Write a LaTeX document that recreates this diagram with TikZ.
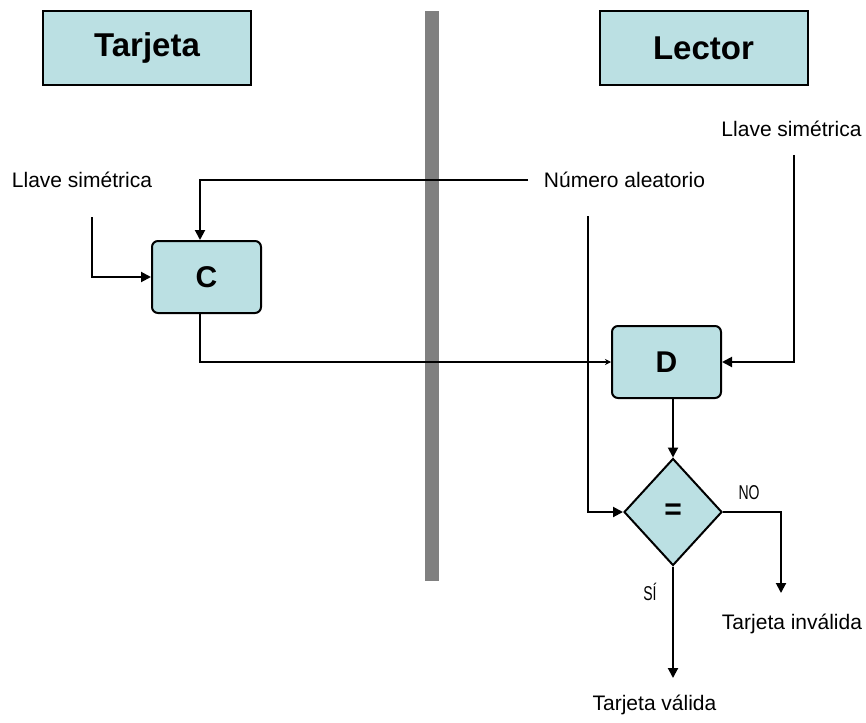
\documentclass[tikz,border=0pt]{standalone}
\usepackage{fontspec}
\setmainfont{Liberation Sans}
\usetikzlibrary{shapes.geometric,arrows.meta}
\definecolor{boxblue}{RGB}{187,224,227}
\definecolor{bargray}{RGB}{128,128,128}

\begin{document}
\begin{tikzpicture}[x=1pt, y=-1pt,
    headbox/.style={draw, line width=2pt, fill=boxblue, minimum width=208pt, minimum height=74pt, inner sep=0pt, font=\fontsize{33}{36}\selectfont\bfseries},
    block/.style={draw, line width=2pt, fill=boxblue, rounded corners=6pt, minimum width=109pt, minimum height=72pt, inner sep=0pt, font=\fontsize{30}{34}\selectfont\bfseries},
    txt/.style={inner sep=0pt, font=\fontsize{21}{24}\selectfont},
    tag/.style={inner sep=0pt, font=\fontsize{20}{24}\selectfont, xscale=0.7},
    arr/.style={-{Triangle[length=10pt,width=10pt]}, line width=2pt},
    thinarr/.style={-{Stealth[length=6pt,width=6pt]}, line width=2pt}]
    \useasboundingbox (0,0) rectangle (866,722);

    % Dividing bar
    \fill[bargray] (425,11) rectangle (439,581);

    % Headings
    \node[headbox] (tarjeta) at (147,48) {Tarjeta};
    \node[headbox] (lector) at (703.5,48) {Lector};

    % Inputs
    \node[txt] (llaveC) at (82,180) {Llave simétrica};
    \node[txt] (numero) at (624.5,180) {Número aleatorio};
    \node[txt] (llaveD) at (791.5,129) {Llave simétrica};
    \coordinate (llaveCend) at (92,217);
    \coordinate (numeroL) at (528,180);
    \coordinate (numeroB) at (588,216);
    \coordinate (llaveDend) at (794,155);

    % Blocks
    \node[block] (C) at (206.5,277) {C};
    \node[block] (D) at (666.5,362) {D};
    \node[draw, line width=2pt, fill=boxblue, diamond, minimum width=98pt, minimum height=107pt, inner sep=0pt, font=\fontsize{30}{34}\selectfont\bfseries] (eq) at (673,512) {=};

    % Outputs
    \node[tag] (no) at (749,493) {NO};
    \node[tag] (si) at (650,592) {SÍ};
    \node[txt] (invalida) at (792,624) {Tarjeta inválida};
    \node[txt] (valida) at (654.5,705) {Tarjeta válida};
    \coordinate (invEnd) at (781,593);
    \coordinate (valEnd) at (673,678);

    % Connectors
    \draw[arr] (numeroL) -| ([xshift=-6.5pt]C.north);
    \draw[arr] (llaveCend) |- (C.west);
    \draw[thinarr] ([xshift=-6.5pt]C.south) |- (D.west);
    \draw[arr] (llaveDend) |- (D.east);
    \draw[arr] (numeroB) |- (eq.west);
    \draw[arr] ([xshift=6.5pt]D.south) -- (eq.north);
    \draw[arr] (eq.east) -| (invEnd);
    \draw[arr] (eq.south) -- (valEnd);
\end{tikzpicture}
\end{document}
